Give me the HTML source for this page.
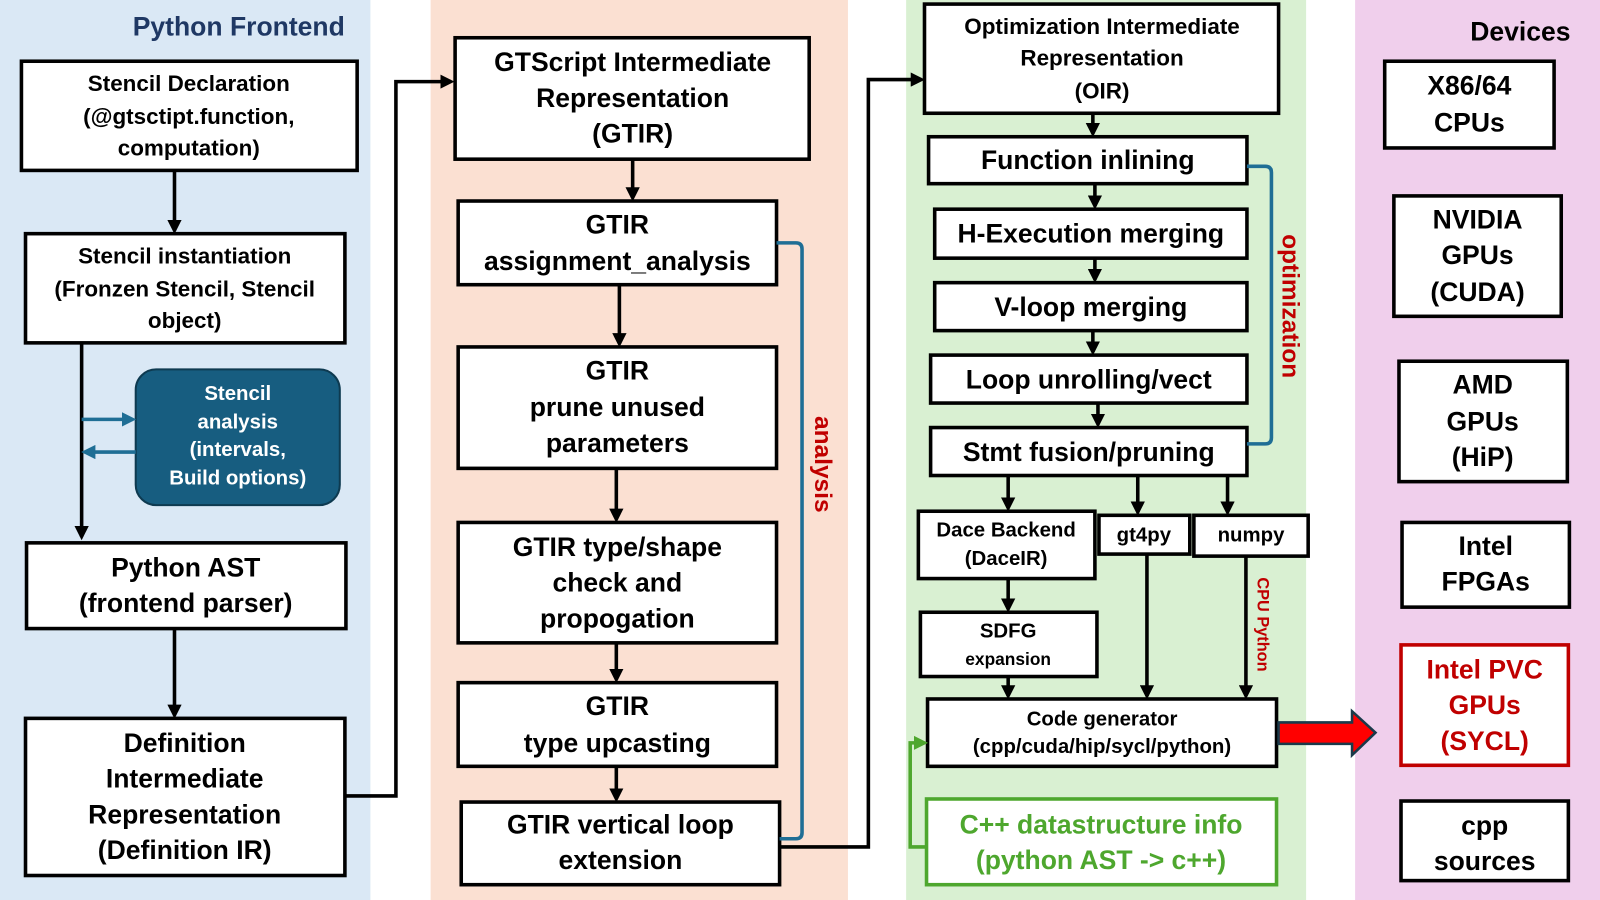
<!DOCTYPE html>
<html><head><meta charset="utf-8"><style>
html,body{margin:0;padding:0;background:#fff}
svg{display:block}
text{font-family:"Liberation Sans",sans-serif;font-weight:bold;text-anchor:middle;dominant-baseline:central}
</style></head><body>
<svg width="1600" height="900" viewBox="0 0 1568 882" preserveAspectRatio="none" xmlns="http://www.w3.org/2000/svg">
<defs>
<marker id="a" markerWidth="4" markerHeight="4" refX="3" refY="2" orient="auto" markerUnits="strokeWidth"><path d="M0,0 L4,2 L0,4 z" fill="#000"/></marker>
<marker id="b" markerWidth="4" markerHeight="4" refX="3" refY="2" orient="auto" markerUnits="strokeWidth"><path d="M0,0 L4,2 L0,4 z" fill="#1f6e95"/></marker>
<marker id="g" markerWidth="4" markerHeight="4" refX="3" refY="2" orient="auto" markerUnits="strokeWidth"><path d="M0,0 L4,2 L0,4 z" fill="#4ea72e"/></marker>
</defs>
<rect x="0" y="0" width="363" height="882" fill="#dae8f5"/>
<rect x="422" y="0" width="409" height="882" fill="#fbe0d2"/>
<rect x="888" y="0" width="392" height="882" fill="#d9f0d2"/>
<rect x="1328" y="0" width="240" height="882" fill="#f0cfec"/>

<g fill="#fff" stroke="#000" stroke-width="3.5">
<rect x="21" y="60" width="329" height="107"/>
<rect x="25" y="229" width="313" height="107"/>
<rect x="26" y="532" width="313" height="84"/>
<rect x="25" y="704" width="313" height="154"/>
<rect x="446" y="37" width="347" height="119"/>
<rect x="449" y="197" width="312" height="82"/>
<rect x="449" y="340" width="312" height="119"/>
<rect x="449" y="512" width="312" height="118"/>
<rect x="449" y="669" width="312" height="82"/>
<rect x="452" y="786" width="312" height="81"/>
<rect x="906" y="4" width="347" height="107"/>
<rect x="910" y="134" width="312" height="46"/>
<rect x="916" y="205" width="306" height="48"/>
<rect x="916" y="277" width="306" height="47"/>
<rect x="912" y="348" width="310" height="47"/>
<rect x="912" y="419" width="310" height="47"/>
<rect x="900" y="501" width="173" height="66"/>
<rect x="1077" y="505" width="89" height="38"/>
<rect x="1170" y="505" width="112" height="40"/>
<rect x="902" y="600" width="173" height="63"/>
<rect x="909" y="685" width="342" height="66"/>
<rect x="1357" y="60" width="166" height="85"/>
<rect x="1366" y="192" width="164" height="118"/>
<rect x="1371" y="354" width="165" height="118"/>
<rect x="1374" y="512" width="164" height="83"/>
<rect x="1373" y="785" width="164" height="78"/>
</g>
<rect x="908" y="783" width="343" height="84" fill="#fff" stroke="#4ea72e" stroke-width="3.5"/>
<rect x="1373" y="632" width="164" height="118" fill="#fff" stroke="#c00000" stroke-width="3.5"/>
<rect x="133" y="362" width="200" height="133" rx="20" fill="#175d80" stroke="#0e3a50" stroke-width="2"/>

<g stroke="#000" stroke-width="3.5" fill="none" marker-end="url(#a)">
<path d="M171,167 V226"/>
<path d="M80,336 V526"/>
<path d="M171,616 V701"/>
<path d="M338,780 H388 V80 H442"/>
<path d="M620,156 V194"/>
<path d="M607,279 V337"/>
<path d="M604,459 V509"/>
<path d="M604,630 V666"/>
<path d="M604,751 V783"/>
<path d="M764,830 H851 V78 H903"/>
<path d="M1071,111 V131"/>
<path d="M1073,180 V202"/>
<path d="M1073,253 V274"/>
<path d="M1071,324 V345"/>
<path d="M1076,395 V416"/>
<path d="M988,466 V498"/>
<path d="M1115,466 V502"/>
<path d="M1203,466 V502"/>
<path d="M988,567 V597"/>
<path d="M988,663 V682"/>
<path d="M1124,543 V682"/>
<path d="M1221,545 V682"/>
</g>
<g stroke="#1f6e95" stroke-width="3.5" fill="none">
<path d="M80,411 H130" marker-end="url(#b)"/>
<path d="M133,443 H83" marker-end="url(#b)"/>
<path d="M761,238 H780 Q786,238 786,244 V816 Q786,822 780,822 H764"/>
<path d="M1222,163 H1240 Q1246,163 1246,169 V429 Q1246,435 1240,435 H1222"/>
</g>
<path d="M908,830 H892 V728 H906" stroke="#4ea72e" stroke-width="3.5" fill="none" marker-end="url(#g)"/>
<path d="M1253,708 H1325 V697 L1348,718 L1325,740 V729 H1253 Z" fill="#ff0000" stroke="#1a3a4a" stroke-width="2.5"/>

<g font-size="22" fill="#000">
<text x="185" y="82">Stencil Declaration</text>
<text x="185" y="114">(@gtsctipt.function,</text>
<text x="185" y="145">computation)</text>
<text x="181" y="251">Stencil instantiation</text>
<text x="181" y="283">(Fronzen Stencil, Stencil</text>
<text x="181" y="314">object)</text>
<text x="1080" y="26">Optimization Intermediate</text>
<text x="1080" y="57">Representation</text>
<text x="1080" y="89">(OIR)</text>
</g>
<g font-size="20" fill="#fff">
<text x="233" y="386">Stencil</text>
<text x="233" y="414">analysis</text>
<text x="233" y="441">(intervals,</text>
<text x="233" y="469">Build options)</text>
</g>
<g font-size="26" fill="#000">
<text x="182" y="556">Python AST</text>
<text x="182" y="591">(frontend parser)</text>
<text x="181" y="728">Definition</text>
<text x="181" y="763">Intermediate</text>
<text x="181" y="798">Representation</text>
<text x="181" y="833">(Definition IR)</text>
<text x="620" y="61">GTScript Intermediate</text>
<text x="620" y="96">Representation</text>
<text x="620" y="131">(GTIR)</text>
<text x="605" y="220">GTIR</text>
<text x="605" y="256">assignment_analysis</text>
<text x="605" y="363">GTIR</text>
<text x="605" y="399">prune unused</text>
<text x="605" y="434">parameters</text>
<text x="605" y="536">GTIR type/shape</text>
<text x="605" y="571">check and</text>
<text x="605" y="606">propogation</text>
<text x="605" y="692">GTIR</text>
<text x="605" y="728">type upcasting</text>
<text x="608" y="808">GTIR vertical loop</text>
<text x="608" y="843">extension</text>
<text x="1066" y="157">Function inlining</text>
<text x="1069" y="229">H-Execution merging</text>
<text x="1069" y="301">V-loop merging</text>
<text x="1067" y="372">Loop unrolling/vect</text>
<text x="1067" y="443">Stmt fusion/pruning</text>
<text x="1440" y="84">X86/64</text>
<text x="1440" y="120">CPUs</text>
<text x="1448" y="215">NVIDIA</text>
<text x="1448" y="250">GPUs</text>
<text x="1448" y="286">(CUDA)</text>
<text x="1453" y="377">AMD</text>
<text x="1453" y="413">GPUs</text>
<text x="1453" y="448">(HiP)</text>
<text x="1456" y="535">Intel</text>
<text x="1456" y="570">FPGAs</text>
<text x="1455" y="809">cpp</text>
<text x="1455" y="844">sources</text>
<text x="1490" y="31">Devices</text>
</g>
<text x="234" y="26" font-size="26" fill="#1f3864">Python Frontend</text>
<g font-size="26" fill="#c00000">
<text x="1455" y="656">Intel PVC</text>
<text x="1455" y="691">GPUs</text>
<text x="1455" y="726">(SYCL)</text>
</g>
<g font-size="26" fill="#4ea72e">
<text x="1079" y="808">C++ datastructure info</text>
<text x="1079" y="843">(python AST -&gt; c++)</text>
</g>
<g font-size="20" fill="#000">
<text x="986" y="520">Dace Backend</text>
<text x="986" y="548">(DaceIR)</text>
<text x="1121" y="525">gt4py</text>
<text x="1226" y="525">numpy</text>
<text x="988" y="619">SDFG</text>
<text x="988" y="646" font-size="17">expansion</text>
<text x="1080" y="705">Code generator</text>
<text x="1080" y="732">(cpp/cuda/hip/sycl/python)</text>
</g>
<text x="806" y="455" font-size="24" fill="#c00000" transform="rotate(90 806 455)">analysis</text>
<text x="1264" y="300" font-size="24" fill="#c00000" transform="rotate(90 1264 300)">optimization</text>
<text x="1237" y="612" font-size="16" fill="#c00000" transform="rotate(90 1237 612)">CPU Python</text>
</svg>
</body></html>
